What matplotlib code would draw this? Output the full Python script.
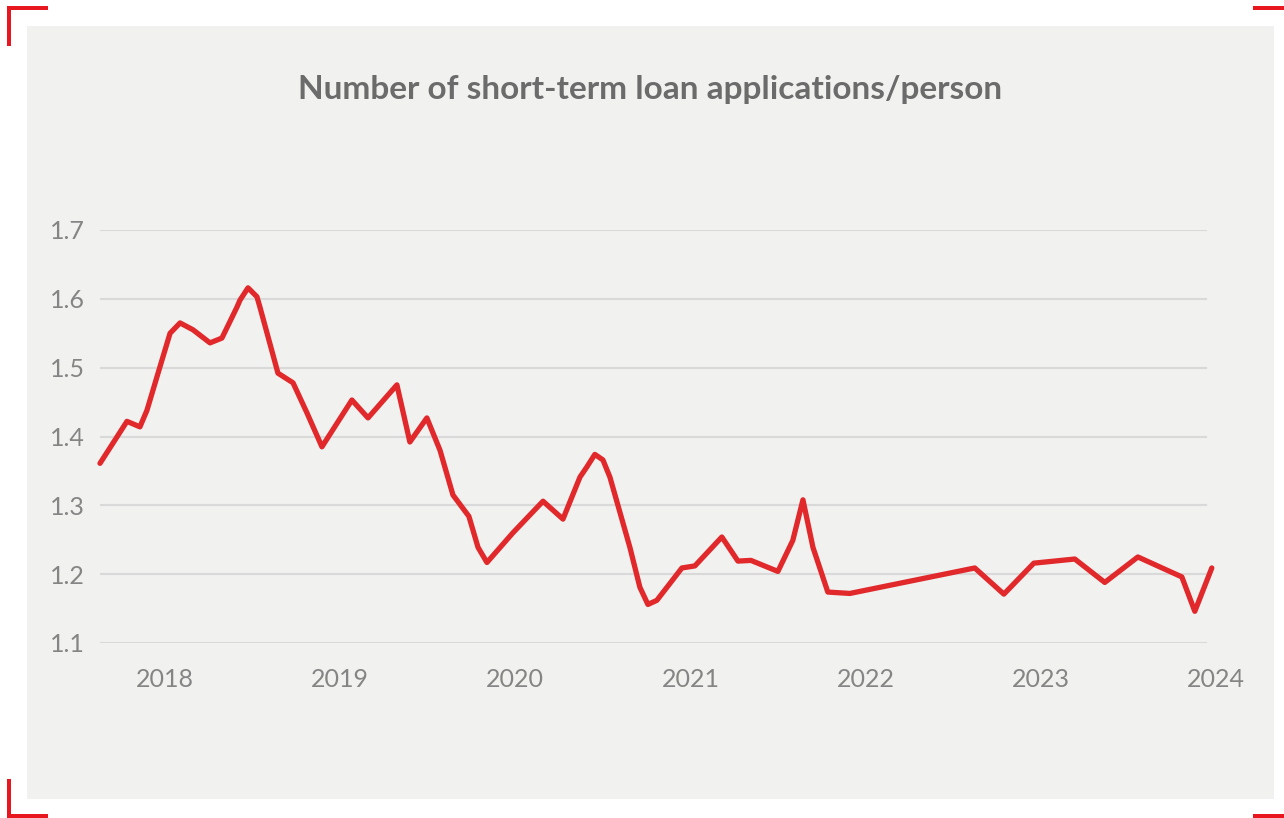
import matplotlib
matplotlib.use("Agg")
import matplotlib.pyplot as plt
from matplotlib.patches import Rectangle

# data (decimal year, applications per person)
years = [2017.629, 2017.783, 2017.857, 2017.897, 2017.971, 2018.029, 2018.086, 2018.160,
         2018.257, 2018.325, 2018.411, 2018.428, 2018.474, 2018.525, 2018.542, 2018.645,
         2018.731, 2018.811, 2018.896, 2019.067, 2019.159, 2019.324, 2019.398, 2019.495,
         2019.570, 2019.644, 2019.735, 2019.787, 2019.838, 2019.986, 2020.158, 2020.272,
         2020.369, 2020.409, 2020.454, 2020.500, 2020.540, 2020.654, 2020.711, 2020.757,
         2020.808, 2020.951, 2021.025, 2021.179, 2021.271, 2021.345, 2021.499, 2021.584,
         2021.642, 2021.699, 2021.784, 2021.910, 2022.623, 2022.789, 2022.960, 2023.194,
         2023.365, 2023.554, 2023.805, 2023.879, 2023.976]
values = [1.361, 1.422, 1.414, 1.438, 1.501, 1.550, 1.565, 1.555,
          1.536, 1.543, 1.588, 1.598, 1.616, 1.603, 1.588, 1.492,
          1.478, 1.434, 1.385, 1.453, 1.427, 1.475, 1.392, 1.427,
          1.380, 1.315, 1.284, 1.239, 1.217, 1.260, 1.306, 1.280,
          1.341, 1.356, 1.374, 1.366, 1.341, 1.239, 1.181, 1.156,
          1.162, 1.209, 1.212, 1.254, 1.219, 1.220, 1.204, 1.249,
          1.308, 1.239, 1.174, 1.172, 1.209, 1.171, 1.216, 1.222,
          1.188, 1.225, 1.196, 1.146, 1.209]
year_ticks = [2018, 2019, 2020, 2021, 2022, 2023, 2024]
value_ticks = [1.1, 1.2, 1.3, 1.4, 1.5, 1.6, 1.7]
title = "Number of short-term loan applications/person"

W, H = 1284, 818
plt.rcParams['font.family'] = ['Lato', 'DejaVu Sans']

fig = plt.figure(figsize=(W / 100, H / 100), dpi=100, facecolor="white")


def box(x0, y0, x1, y1, color):
    # pixel box (from top-left) -> figure fraction rectangle, behind the axes
    r = Rectangle((x0 / W, 1 - y1 / H), (x1 - x0) / W, (y1 - y0) / H,
                  transform=fig.transFigure, facecolor=color, edgecolor="none",
                  zorder=-5)
    fig.patches.append(r)


# grey panel
box(27, 26, 1274, 799, "#f1f1ef")

# red corner brackets
red = "#e8161f"
box(7, 6, 48, 10, red)
box(7, 6, 11, 46, red)
box(7, 779, 11, 818, red)
box(7, 814, 48, 818, red)
box(1253, 6, 1284, 10, red)
box(1253, 814, 1284, 818, red)

ax = fig.add_axes([100 / W, 1 - 643 / H, (1216 - 100) / W, (643 - 230) / H])
ax.set_facecolor("none")
ax.plot(years, values, color="#e1282b", lw=3.8, solid_joinstyle="round",
        solid_capstyle="round", clip_on=False, zorder=3)

ax.set_xlim(2017.629, 2024.0)
ax.set_ylim(1.1, 1.7)
ax.set_yticks(value_ticks)
ax.set_yticklabels([f"{v:.1f}" for v in value_ticks])
ax.set_xticks(year_ticks)
ax.set_xticklabels([str(y) for y in year_ticks])
# gridlines stop a little short of the right edge
for v in value_ticks:
    ax.axhline(v, xmin=0, xmax=(1206 - 100) / (1216 - 100), color="#d9d9d9",
               lw=1.5, zorder=1)
for s in ax.spines.values():
    s.set_visible(False)
ax.tick_params(length=0, labelsize=18, labelcolor="#858585")
ax.tick_params(axis="y", pad=11)
ax.tick_params(axis="x", pad=18)

fig.text(650 / W, 1 - 89 / H, title, ha="center", va="center",
         fontsize=24, fontweight="bold", color="#6b6b6b")

fig.savefig("out.png", dpi=100, facecolor="white")
